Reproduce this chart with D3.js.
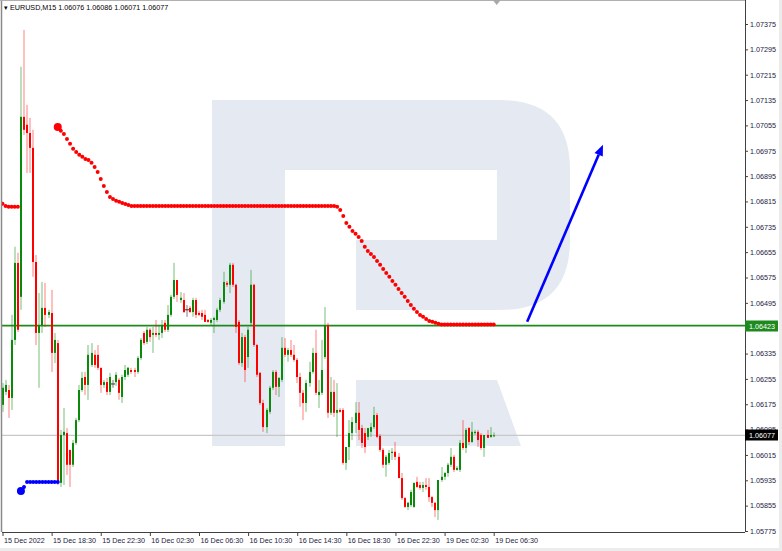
<!DOCTYPE html>
<html><head><meta charset="utf-8">
<script src="https://cdn.jsdelivr.net/npm/d3@7"></script>
<style>html,body{margin:0;padding:0;background:#fff;overflow:hidden}svg{display:block}</style>
</head><body><svg id="c" width="782" height="551"></svg>
<script>
// ---- DATA ----
const symbolTitle = "EURUSD,M15";
const lastOHLC = [1.06076, 1.06086, 1.06071, 1.06077];
// [open, high, low, close] per M15 bar
const candles = [
[1.06173,1.06242,1.06151,1.06227],[1.06214,1.06252,1.06204,1.06236],[1.06220,1.06236,1.06132,1.06195],[1.06195,1.06457,1.06157,1.06378],
[1.06378,1.06672,1.06362,1.06621],[1.06621,1.06653,1.06403,1.06410],[1.06514,1.07240,1.06473,1.07082],[1.07082,1.07356,1.07025,1.07041],
[1.07057,1.07120,1.06905,1.07031],[1.07031,1.07079,1.06905,1.06984],[1.06984,1.07041,1.06577,1.06624],[1.06624,1.06646,1.06362,1.06400],
[1.06400,1.06526,1.06227,1.06425],[1.06425,1.06561,1.06400,1.06479],[1.06479,1.06558,1.06419,1.06457],[1.06457,1.06473,1.06447,1.06466],
[1.06463,1.06536,1.06277,1.06337],[1.06337,1.06400,1.06305,1.06378],[1.06368,1.06378,1.05920,1.05927],[1.05927,1.06094,1.05914,1.06078],
[1.06078,1.06163,1.05920,1.06088],[1.06084,1.06100,1.05952,1.05984],[1.06031,1.06031,1.05914,1.05984],[1.05984,1.06062,1.05977,1.06053],
[1.06053,1.06132,1.06047,1.06125],[1.06125,1.06236,1.06119,1.06220],[1.06220,1.06277,1.06214,1.06258],[1.06261,1.06277,1.06204,1.06236],
[1.06236,1.06362,1.06189,1.06331],[1.06299,1.06368,1.06293,1.06337],[1.06331,1.06346,1.06290,1.06299],[1.06331,1.06362,1.06283,1.06290],
[1.06290,1.06290,1.06211,1.06236],[1.06236,1.06252,1.06227,1.06245],[1.06245,1.06258,1.06204,1.06214],[1.06214,1.06274,1.06204,1.06261],
[1.06239,1.06252,1.06227,1.06239],[1.06245,1.06277,1.06233,1.06268],[1.06252,1.06258,1.06189,1.06211],[1.06198,1.06268,1.06179,1.06261],
[1.06261,1.06299,1.06252,1.06283],[1.06268,1.06293,1.06261,1.06290],[1.06283,1.06290,1.06271,1.06277],[1.06283,1.06290,1.06261,1.06277],
[1.06277,1.06327,1.06271,1.06321],[1.06321,1.06384,1.06315,1.06378],[1.06400,1.06406,1.06362,1.06368],[1.06372,1.06419,1.06365,1.06410],
[1.06410,1.06416,1.06372,1.06387],[1.06394,1.06419,1.06337,1.06400],[1.06400,1.06441,1.06387,1.06394],[1.06394,1.06425,1.06378,1.06400],
[1.06400,1.06441,1.06384,1.06425],[1.06432,1.06441,1.06403,1.06410],[1.06410,1.06488,1.06403,1.06457],[1.06457,1.06520,1.06451,1.06514],
[1.06514,1.06621,1.06507,1.06567],[1.06567,1.06567,1.06498,1.06520],[1.06504,1.06529,1.06495,1.06511],[1.06504,1.06526,1.06463,1.06466],
[1.06473,1.06488,1.06451,1.06473],[1.06479,1.06485,1.06463,1.06466],[1.06466,1.06511,1.06451,1.06504],[1.06504,1.06511,1.06447,1.06457],
[1.06463,1.06470,1.06454,1.06457],[1.06463,1.06473,1.06441,1.06451],[1.06457,1.06473,1.06435,1.06435],[1.06441,1.06444,1.06432,1.06435],
[1.06432,1.06447,1.06425,1.06441],[1.06441,1.06451,1.06400,1.06447],[1.06441,1.06479,1.06435,1.06473],[1.06473,1.06511,1.06466,1.06504],
[1.06498,1.06593,1.06492,1.06561],[1.06558,1.06564,1.06545,1.06552],[1.06552,1.06621,1.06526,1.06615],[1.06615,1.06621,1.06545,1.06552],
[1.06552,1.06555,1.06400,1.06419],[1.06435,1.06441,1.06299,1.06305],[1.06305,1.06400,1.06293,1.06387],[1.06387,1.06394,1.06245,1.06283],
[1.06324,1.06419,1.06290,1.06410],[1.06432,1.06599,1.06425,1.06552],[1.06552,1.06555,1.06356,1.06362],[1.06362,1.06365,1.06261,1.06268],
[1.06274,1.06277,1.06173,1.06179],[1.06179,1.06189,1.06088,1.06103],[1.06103,1.06163,1.06084,1.06157],[1.06151,1.06233,1.06144,1.06227],
[1.06227,1.06283,1.06220,1.06277],[1.06277,1.06283,1.06204,1.06230],[1.06230,1.06261,1.06198,1.06258],[1.06252,1.06387,1.06245,1.06353],
[1.06353,1.06384,1.06324,1.06331],[1.06331,1.06353,1.06309,1.06346],[1.06346,1.06378,1.06324,1.06331],[1.06331,1.06362,1.06309,1.06315],
[1.06315,1.06321,1.06242,1.06261],[1.06261,1.06274,1.06167,1.06211],[1.06211,1.06220,1.06125,1.06179],[1.06179,1.06252,1.06151,1.06242],
[1.06242,1.06309,1.06230,1.06277],[1.06277,1.06353,1.06271,1.06337],[1.06337,1.06410,1.06204,1.06211],[1.06204,1.06252,1.06163,1.06214],
[1.06211,1.06378,1.06204,1.06283],[1.06324,1.06482,1.06318,1.06425],[1.06425,1.06432,1.06132,1.06148],[1.06148,1.06261,1.06141,1.06214],
[1.06214,1.06252,1.06135,1.06148],[1.06148,1.06242,1.06072,1.06157],[1.06157,1.06163,1.06148,1.06151],[1.06157,1.06163,1.05984,1.05990],
[1.05990,1.06040,1.05968,1.06040],[1.06040,1.06125,1.05999,1.06084],[1.06084,1.06135,1.06062,1.06119],[1.06116,1.06182,1.06084,1.06148],
[1.06148,1.06182,1.06062,1.06094],[1.06100,1.06110,1.06037,1.06053],[1.06084,1.06100,1.06021,1.06040],[1.06072,1.06094,1.06062,1.06100],
[1.06088,1.06116,1.06072,1.06103],[1.06103,1.06167,1.06097,1.06141],[1.06141,1.06148,1.06069,1.06072],[1.06075,1.06081,1.06025,1.06031],
[1.06031,1.06037,1.05974,1.05984],[1.05984,1.06015,1.05946,1.06009],[1.05990,1.06031,1.05984,1.06021],[1.06021,1.06037,1.05999,1.06025],
[1.06025,1.06056,1.05999,1.06009],[1.06009,1.06021,1.05942,1.05942],[1.05942,1.05958,1.05873,1.05879],[1.05879,1.05882,1.05848,1.05851],
[1.05851,1.05867,1.05841,1.05864],[1.05857,1.05905,1.05851,1.05898],[1.05851,1.05927,1.05848,1.05927],[1.05930,1.05946,1.05911,1.05914],
[1.05920,1.05930,1.05905,1.05911],[1.05911,1.05930,1.05898,1.05920],[1.05920,1.05942,1.05905,1.05914],[1.05914,1.05942,1.05867,1.05882],
[1.05882,1.05886,1.05851,1.05864],[1.05864,1.05867,1.05819,1.05841],[1.05841,1.05936,1.05810,1.05936],[1.05936,1.05977,1.05930,1.05946],
[1.05946,1.05961,1.05936,1.05958],[1.05958,1.05990,1.05946,1.05984],[1.05984,1.06037,1.05977,1.06009],[1.06009,1.06015,1.05961,1.05968],
[1.05968,1.05980,1.05965,1.05974],[1.05968,1.06062,1.05961,1.06053],[1.06053,1.06125,1.06031,1.06037],[1.06037,1.06100,1.06021,1.06094],
[1.06100,1.06103,1.06047,1.06056],[1.06056,1.06119,1.06053,1.06088],[1.06084,1.06094,1.06078,1.06088],[1.06088,1.06094,1.06040,1.06062],
[1.06078,1.06084,1.06031,1.06037],[1.06037,1.06078,1.06009,1.06078],[1.06078,1.06094,1.06069,1.06069],[1.06072,1.06103,1.06069,1.06078],
[1.06076,1.06086,1.06071,1.06077]
];
// trend-indicator dots (segments: first bar index + values)
const redSegments = [
  {start: 0, values: [1.06808,1.06801,1.06798,1.06798,1.06798,1.06798]},
  {start: 18, values: [
    1.07050,1.07038,1.07028,1.07012,1.06997,1.06981,1.06971,1.06962,1.06956,1.06949,
    1.06946,1.06937,1.06924,1.06908,1.06886,1.06864,1.06845,1.06829,1.06823,1.06817,
    1.06814,1.06810,1.06807,1.06804,
    1.06801,1.06801,1.06801,1.06801,1.06801,1.06801,1.06801,1.06801,1.06801,1.06801,
    1.06801,1.06801,1.06801,1.06801,1.06801,1.06801,1.06801,1.06801,1.06801,1.06801,
    1.06801,1.06801,1.06801,1.06801,1.06801,1.06801,1.06801,1.06801,1.06801,1.06801,
    1.06801,1.06801,1.06801,1.06801,1.06801,1.06801,1.06801,1.06801,1.06801,1.06801,
    1.06801,1.06801,1.06801,1.06801,1.06801,1.06801,1.06801,1.06801,1.06801,1.06801,
    1.06801,1.06801,1.06801,1.06801,1.06801,1.06801,1.06801,1.06801,1.06801,1.06801,
    1.06801,1.06801,1.06801,1.06801,1.06801,1.06801,1.06801,
    1.06798,1.06788,1.06769,1.06747,1.06735,1.06722,1.06713,1.06703,1.06690,1.06672,
    1.06659,1.06649,1.06640,1.06627,1.06615,1.06602,1.06589,1.06577,1.06564,1.06552,
    1.06539,1.06526,1.06514,1.06501,1.06488,1.06476,1.06466,1.06457,1.06451,1.06444,
    1.06438,1.06435,1.06432,1.06429,
    1.06427,1.06427,1.06427,1.06427,1.06427,1.06427,1.06427,1.06427,1.06427,1.06427,
    1.06427,1.06427,1.06427,1.06427,1.06427,1.06427,1.06427,1.06427]}
];
const blueSegments = [
  {start: 6, values: [1.05901,1.05914,1.05930,1.05930,1.05930,1.05930,1.05930,1.05930,1.05930,1.05930,1.05930,1.05930,1.05930]}
];
const supportLevel = 1.06423;
const bidLevel = 1.06077;
// forecast arrow: [bar index, price]
const arrowFrom = [170.9, 1.06435];
const arrowTo = [195.6, 1.06994];
const yTicks = [1.07375,1.07295,1.07215,1.07135,1.07055,1.06975,1.06895,1.06815,1.06735,1.06655,1.06575,
                1.06495,1.06415,1.06335,1.06255,1.06175,1.06095,1.06015,1.05935,1.05855,1.05775];
const xTickBars = [0,16,32,48,64,80,96,112,128,144,160];
const xTickLabels = ["15 Dec 2022","15 Dec 18:30","15 Dec 22:30","16 Dec 02:30","16 Dec 06:30","16 Dec 10:30",
                     "16 Dec 14:30","16 Dec 18:30","16 Dec 22:30","19 Dec 02:30","19 Dec 06:30"];

// ---- DRAW ----
const W = 782, H = 551;
const L = 2, R = 745, T = 0, B = 532;
const FONT = "'Liberation Sans', Arial, sans-serif";
const svg = d3.select('#c');
svg.append('rect').attr('width', W).attr('height', H).attr('fill', '#fff');
svg.append('rect').attr('x', 779).attr('y', 0).attr('width', 3).attr('height', H).attr('fill', '#ececec');
svg.append('rect').attr('x', 0).attr('y', 548).attr('width', W).attr('height', 3).attr('fill', '#ececec');

const x = d3.scaleLinear().domain([0, 160]).range([2.5, 493.7]);
const y = d3.scaleLinear().domain([1.05775, 1.07375]).range([531, 24]);

svg.append('clipPath').attr('id', 'pc').append('rect').attr('x', L).attr('y', T).attr('width', R - L).attr('height', B - T);
const g = svg.append('g').attr('clip-path', 'url(#pc)');

// watermark logo (decoration)
const wm = g.append('g').attr('fill', '#e4e9f2');
wm.append('path').attr('d',
  'M212,100 H500 Q570,100 570,170 V240 Q570,310 500,310 H356 V240 H497 V170 H285 V446 H212 Z');
wm.append('path').attr('d', 'M356,380 H497 L521,446 H356 Z');

// levels
g.append('line').attr('x1', L).attr('x2', R).attr('y1', y(bidLevel)).attr('y2', y(bidLevel))
  .attr('stroke', '#c8c8c8').attr('stroke-width', 1.3);
g.append('line').attr('x1', L).attr('x2', R).attr('y1', y(supportLevel)).attr('y2', y(supportLevel))
  .attr('stroke', '#1e8a1e').attr('stroke-width', 1.6);

// candles
const cg = g.append('g');
candles.forEach((d, i) => {
  const [o, h, l, c] = d;
  const cx = Math.round(x(i));
  const col = c > o ? '#0a8a0a' : (c < o ? '#ff0000' : '#333');
  const wcol = c > o ? 'rgba(10,138,10,0.55)' : (c < o ? 'rgba(255,0,0,0.5)' : 'rgba(40,40,40,0.6)');
  cg.append('rect').attr('x', cx - 0.5).attr('width', 1)
    .attr('y', y(h)).attr('height', Math.max(1, y(l) - y(h))).attr('fill', wcol);
  const top = y(Math.max(o, c)), bot = y(Math.min(o, c));
  if (c === o) {
    cg.append('rect').attr('x', cx - 2).attr('width', 4).attr('y', top - 0.5).attr('height', 1).attr('fill', col);
  } else {
    cg.append('rect').attr('x', cx - 1).attr('width', 2).attr('y', top).attr('height', Math.max(1, bot - top)).attr('fill', col);
  }
});

// indicator dots
function drawSeg(segs, color) {
  segs.forEach((s) => {
    s.values.forEach((v, k) => {
      const big = (k === 0 && s.start > 0);
      g.append('circle').attr('cx', x(s.start + k)).attr('cy', y(v)).attr('r', big ? 4 : 2).attr('fill', color);
    });
  });
}
drawSeg(redSegments, '#ff0000');
drawSeg(blueSegments, '#0000ff');

// forecast arrow
const ax1 = x(arrowFrom[0]), ay1 = y(arrowFrom[1]), ax2 = x(arrowTo[0]), ay2 = y(arrowTo[1]);
const ang = Math.atan2(ay2 - ay1, ax2 - ax1);
const hl = 11, hw = 4.5;
const bx = ax2 - hl * Math.cos(ang), by = ay2 - hl * Math.sin(ang);
g.append('line').attr('x1', ax1).attr('y1', ay1).attr('x2', bx).attr('y2', by)
  .attr('stroke', '#0000ff').attr('stroke-width', 2.6);
g.append('path').attr('fill', '#0000ff').attr('d',
  `M${ax2},${ay2} L${bx - hw * Math.sin(ang)},${by + hw * Math.cos(ang)} L${bx + hw * Math.sin(ang)},${by - hw * Math.cos(ang)} Z`);

// frame
svg.append('line').attr('x1', 1.5).attr('x2', 1.5).attr('y1', 0).attr('y2', B).attr('stroke', '#8a8a8a').attr('stroke-width', 1.5);
svg.append('line').attr('x1', 0).attr('x2', R).attr('y1', 0.5).attr('y2', 0.5).attr('stroke', '#b0b0b0');
svg.append('path').attr('fill', '#a8a8a8').attr('d', `M${x(160) - 1},0 h8 l-4,5 Z`);

// right axis
const yAxis = d3.axisRight(y).tickValues(yTicks).tickSize(3).tickPadding(2).tickFormat(d3.format('.5f'));
const ya = svg.append('g').attr('transform', `translate(${R},0)`).call(yAxis);
ya.select('.domain').attr('d', `M0.5,0V${B}`).attr('stroke', '#404040');
ya.selectAll('.tick line').attr('stroke', '#404040');
ya.selectAll('text').attr('font-family', FONT).attr('font-size', 7.2).attr('fill', '#1a1a40');

// bottom axis
const xAxis = d3.axisBottom(x).tickValues(xTickBars).tickSize(4).tickFormat((d, i) => xTickLabels[i]);
const xa = svg.append('g').attr('transform', `translate(0,${B})`).call(xAxis);
xa.select('.domain').attr('d', `M${L},0.5H${R}`).attr('stroke', '#404040');
xa.selectAll('.tick line').attr('stroke', '#404040');
xa.selectAll('text').attr('font-family', FONT).attr('font-size', 7.2).attr('fill', '#1a1a40')
  .attr('text-anchor', 'start').attr('dx', 1).attr('y', 6);

// price labels
function priceTag(v, bg, fg) {
  const yy = Math.round(y(v));
  svg.append('rect').attr('x', R).attr('y', yy - 5.5).attr('width', 33).attr('height', 11).attr('fill', bg);
  svg.append('text').attr('x', R + 4).attr('y', yy + 2.6).attr('font-family', FONT).attr('font-size', 7.2)
    .attr('fill', fg).text(d3.format('.5f')(v));
}
priceTag(supportLevel, '#1e8a1e', '#fff');
priceTag(bidLevel, '#000', '#fff');

// header
svg.append('text').attr('x', 4).attr('y', 10).attr('font-family', FONT).attr('font-size', 7.2).attr('fill', '#000')
  .text('\u25BE ' + symbolTitle + '  ' + lastOHLC.map(d3.format('.5f')).join(' '));
</script></body></html>
